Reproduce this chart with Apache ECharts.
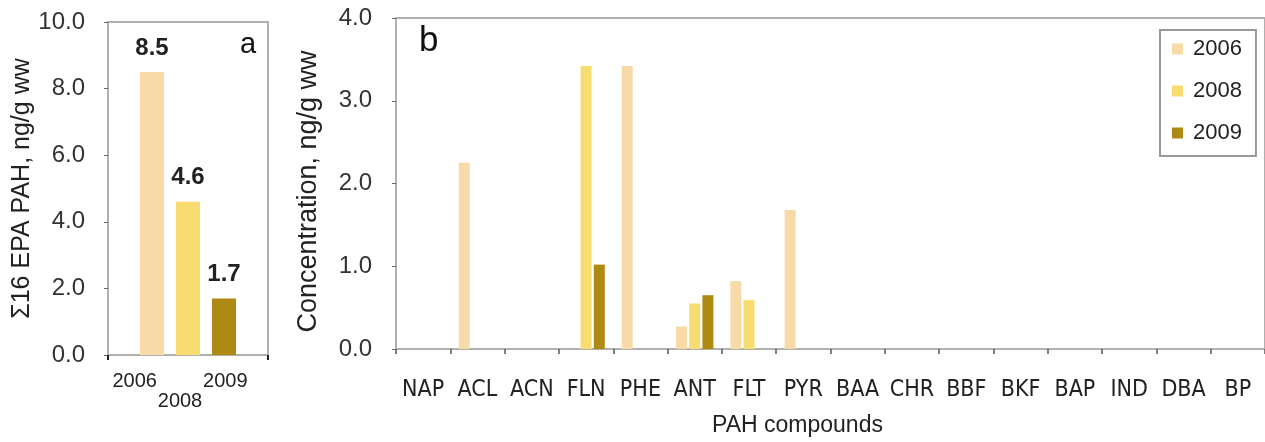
<!DOCTYPE html>
<html>
<head>
<meta charset="utf-8">
<script src="https://cdn.jsdelivr.net/npm/echarts@6/dist/echarts.min.js"></script>
<style>
html,body{margin:0;padding:0;background:#fff;}
#c{width:1265px;height:442px;}
</style>
</head>
<body>
<div id="c"></div>
<script>
// Panel a: total of 16 EPA PAH per year
var yearsA = ['2006', '2008', '2009'];
var totalA = [8.5, 4.6, 1.7];
// Panel b: individual PAH compounds
var compounds = ['NAP','ACL','ACN','FLN','PHE','ANT','FLT','PYR','BAA','CHR','BBF','BKF','BAP','IND','DBA','BP'];
var v2006 = [0, 2.25, 0, 0, 3.42, 0.27, 0.82, 1.68, 0, 0, 0, 0, 0, 0, 0, 0];
var v2008 = [0, 0, 0, 3.42, 0, 0.55, 0.59, 0, 0, 0, 0, 0, 0, 0, 0, 0];
var v2009 = [0, 0, 0, 1.02, 0, 0.65, 0, 0, 0, 0, 0, 0, 0, 0, 0, 0];
var ticksA = [0, 2, 4, 6, 8, 10];
var ticksB = [0, 1, 2, 3, 4];

var colors = ['#F8D9A8', '#F8DC70', '#AF8A12'];
var FONT = "'Liberation Sans', Arial, sans-serif";
var NARROW = "'Liberation Sans Narrow', 'DejaVu Sans Condensed', 'Roboto Condensed', Roboto, sans-serif";

var chart = echarts.init(document.getElementById('c'), null, {renderer: 'canvas'});

var seriesA = yearsA.map(function (y, i) {
  return {
    name: 'a' + y,
    type: 'bar',
    xAxisIndex: 0, yAxisIndex: 0,
    barWidth: 24,
    barGap: '50%',
    data: [totalA[i]],
    itemStyle: {color: colors[i]},
    label: {
      show: true, position: 'top', distance: 12,
      formatter: function (p) { return p.value.toFixed(1); },
      fontFamily: FONT, fontWeight: 'bold', fontSize: 24, color: '#222'
    },
    silent: true
  };
});
var bData = [v2006, v2008, v2009];
var seriesB = yearsA.map(function (y, i) {
  return {
    name: y,
    type: 'bar',
    xAxisIndex: 2, yAxisIndex: 2,
    barWidth: 11,
    barGap: '20%',
    data: bData[i],
    itemStyle: {color: colors[i]},
    silent: true
  };
});

var option = {
  backgroundColor: '#ffffff',
  animation: false,
  textStyle: {fontFamily: FONT},
  title: [
    {text: 'a', left: 235, top: 25, textStyle: {fontFamily: FONT, fontSize: 29, fontWeight: 'normal', color: '#111'}},
    {text: 'b', left: 414, top: 19, textStyle: {fontFamily: FONT, fontSize: 35, fontWeight: 'normal', color: '#111'}}
  ],
  legend: {
    data: yearsA,
    orient: 'vertical',
    left: 1160, top: 30,
    width: 97,
    padding: [8, 14, 12, 12],
    itemGap: 20,
    itemWidth: 11, itemHeight: 11,
    icon: 'rect',
    borderColor: '#999', borderWidth: 2,
    textStyle: {fontFamily: FONT, fontSize: 22, color: '#222', lineHeight: 22, padding: [0, 0, 0, 5]},
    selectedMode: false
  },
  grid: [
    {left: 108, right: 997, top: 22, bottom: 87, show: true, borderColor: '#b0b0b0', borderWidth: 2, backgroundColor: 'transparent'},
    {left: 112, right: 1017, top: 22, bottom: 87},
    {left: 396, right: -2, top: 18, bottom: 90, show: true, borderColor: '#b0b0b0', borderWidth: 2, backgroundColor: 'transparent'}
  ],
  xAxis: [
    {
      gridIndex: 0, type: 'category', data: ['Σ16'],
      axisLine: {lineStyle: {color: '#b0b0b0', width: 2}},
      axisTick: {show: true, length: 5, lineStyle: {color: '#222', width: 2}},
      axisLabel: {show: false}
    },
    {
      gridIndex: 1, type: 'category', data: yearsA,
      axisLine: {show: false}, axisTick: {show: false},
      axisLabel: {
        interval: 0, margin: 16, fontFamily: FONT, fontSize: 20, color: '#222', lineHeight: 20,
        formatter: function (v, i) { return i === 1 ? '\n' + v : v; }
      }
    },
    {
      gridIndex: 2, type: 'category', data: compounds,
      axisLine: {lineStyle: {color: '#b0b0b0', width: 2}},
      axisTick: {show: true, length: 5, lineStyle: {color: '#555', width: 1.5}},
      axisLabel: {margin: 30, fontFamily: NARROW, fontSize: 23, color: '#222', interval: 0},
      name: 'PAH compounds',
      nameLocation: 'middle',
      nameGap: 65,
      nameTextStyle: {fontFamily: FONT, fontSize: 23, color: '#222', padding: [0, 66, 0, 0]}
    }
  ],
  yAxis: [
    {
      gridIndex: 0, type: 'value', min: ticksA[0], max: ticksA[ticksA.length - 1], interval: ticksA[1] - ticksA[0],
      axisLine: {show: true, lineStyle: {color: '#b0b0b0', width: 2}},
      axisTick: {show: true, length: 4, lineStyle: {color: '#666'}},
      splitLine: {show: false},
      axisLabel: {margin: 23, fontFamily: FONT, fontSize: 24, color: '#333', formatter: function (v) { return v.toFixed(1); }},
      name: 'Σ16 EPA PAH, ng/g ww',
      nameLocation: 'middle',
      nameGap: 64,
      nameTextStyle: {fontFamily: FONT, fontSize: 25, color: '#222'}
    },
    {
      gridIndex: 1, type: 'value', min: 0, max: 10, show: false
    },
    {
      gridIndex: 2, type: 'value', min: ticksB[0], max: ticksB[ticksB.length - 1], interval: ticksB[1] - ticksB[0],
      axisLine: {show: true, lineStyle: {color: '#b0b0b0', width: 2}},
      axisTick: {show: true, length: 4, lineStyle: {color: '#666'}},
      splitLine: {show: false},
      axisLabel: {margin: 24, fontFamily: FONT, fontSize: 24, color: '#333', formatter: function (v) { return v.toFixed(1); }},
      name: 'Concentration, ng/g ww',
      nameLocation: 'middle',
      nameGap: 74,
      nameTextStyle: {fontFamily: FONT, fontSize: 27, color: '#222', padding: [0, 16, 0, 0]}
    }
  ],
  series: seriesA.concat(seriesB)
};
chart.setOption(option);
</script>
</body>
</html>
